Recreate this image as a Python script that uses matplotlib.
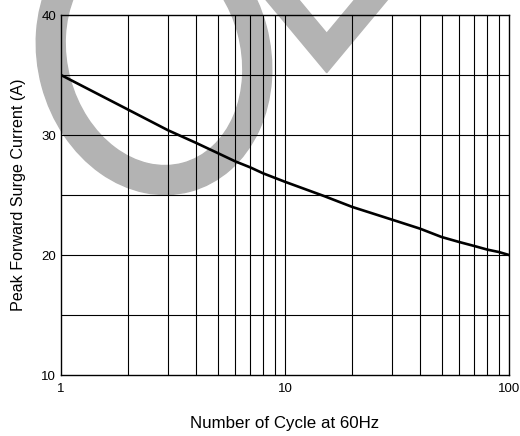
import matplotlib
matplotlib.use("Agg")
import matplotlib.pyplot as plt
from matplotlib.patches import Annulus, Polygon
from matplotlib.transforms import IdentityTransform
from matplotlib.ticker import FixedLocator, NullFormatter

plt.rcParams['font.family'] = ['Liberation Sans', 'DejaVu Sans']

cycles = [1, 2, 3, 4, 5, 6, 7, 8, 10, 15, 20, 30, 40, 50, 60, 70, 80, 90, 100]
current = [35.0, 32.1, 30.4, 29.35, 28.5, 27.8, 27.3, 26.8, 26.1, 24.9, 24.0, 22.95,
           22.2, 21.5, 21.08, 20.75, 20.45, 20.25, 20.0]

x_ticks = [1, 10, 100]
x_tick_labels = ["1", "10", "100"]
y_ticks = [10, 20, 30, 40]
y_tick_labels = ["10", "20", "30", "40"]
x_grid = [2, 3, 4, 5, 6, 7, 8, 9, 10, 20, 30, 40, 50, 60, 70, 80, 90]
y_grid = [15, 20, 25, 30, 35]

W, H = 520, 436
fig = plt.figure(figsize=(W / 100, H / 100), dpi=100)
ax = fig.add_axes([61 / W, 1 - 375 / H, 448 / W, 360 / H])

ax.set_xscale('log')
ax.set_xlim(1, 100)
ax.set_ylim(10, 40)

for gx in x_grid:
    ax.axvline(gx, color='black', lw=0.8, zorder=1.5)
for gy in y_grid:
    ax.axhline(gy, color='black', lw=0.8, zorder=1.5)

ax.plot(cycles, current, color='black', lw=1.9, zorder=3, solid_joinstyle='round')

ax.xaxis.set_major_locator(FixedLocator(x_ticks))
ax.set_xticklabels(x_tick_labels)
ax.xaxis.set_minor_locator(FixedLocator([]))
ax.xaxis.set_minor_formatter(NullFormatter())
ax.set_yticks(y_ticks)
ax.set_yticklabels(y_tick_labels)
ax.tick_params(axis='both', length=0, labelsize=9.5, colors='black')
ax.tick_params(axis='x', pad=6)
ax.tick_params(axis='y', pad=3.5)
for s in ax.spines.values():
    s.set_linewidth(1.0)
    s.set_color('black')

ax.set_xlabel("Number of Cycle at 60Hz", fontsize=12.2, labelpad=15)
ax.set_ylabel("Peak Forward Surge Current (A)", fontsize=11.6, labelpad=11)

# watermark (pixel coordinates, y measured from top)
def P(x, y):
    return (x, H - y)

ring = Annulus(P(154, 56), (140, 116), 29, angle=-75, color='#b3b3b3',
               transform=IdentityTransform(), clip_on=False, zorder=1)
ax.add_artist(ring)
vpts = [P(249.5, -20), P(326.7, 72.7), P(403.9, -20), P(371.1, -20),
        P(326.7, 33.3), P(282.3, -20)]
vee = Polygon(vpts, closed=True, color='#b3b3b3', transform=IdentityTransform(),
              clip_on=False, zorder=1)
ax.add_artist(vee)

fig.savefig("out.png", dpi=100)
